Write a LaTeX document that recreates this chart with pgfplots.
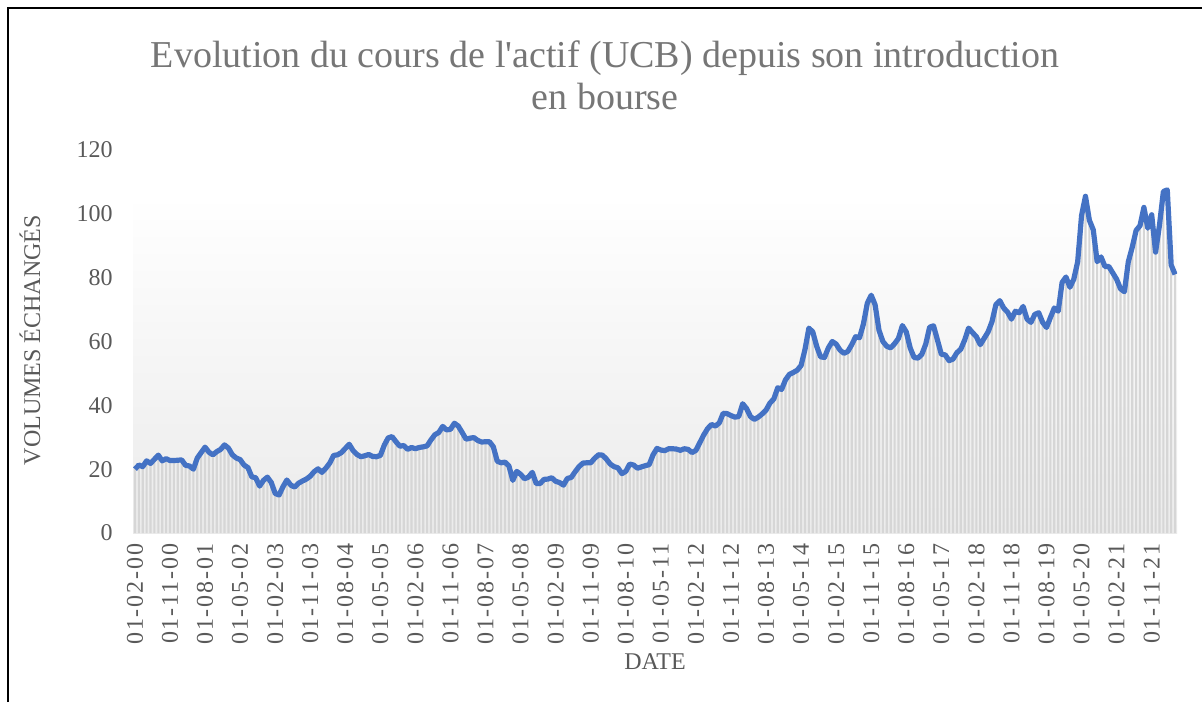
\documentclass[border=0pt]{standalone}
\usepackage{pgfplots}
\pgfplotsset{compat=1.18}
\usepackage{pgfplotstable}
\usepackage{fontspec}
\setmainfont{Liberation Serif}
\newfontfamily\tickfont[LetterSpace=8]{Liberation Serif}
\definecolor{linec}{HTML}{4472C4}
\definecolor{txt}{HTML}{595959}
\definecolor{ttl}{HTML}{767676}
\definecolor{barc}{HTML}{D6D6D6}
\definecolor{bgb}{HTML}{EBEBEB}
\definecolor{axc}{HTML}{D9D9D9}
\pgfplotstableread{
m v
0 20.0
1 21.3
2 20.8
3 22.6
4 21.8
5 23.1
6 24.4
7 22.6
8 23.3
9 22.7
10 22.7
11 22.8
12 22.9
13 21.2
14 21.0
15 20.0
16 23.5
17 25.2
18 26.9
19 25.3
20 24.5
21 25.5
22 26.2
23 27.6
24 26.6
25 24.5
26 23.5
27 23.0
28 21.3
29 20.5
30 17.6
31 17.3
32 14.7
33 16.5
34 17.5
35 15.8
36 12.4
37 11.9
38 14.5
39 16.6
40 15.0
41 14.4
42 15.6
43 16.3
44 16.9
45 17.8
46 19.2
47 20.1
48 19.0
49 20.3
50 21.9
51 24.3
52 24.5
53 25.2
54 26.5
55 27.8
56 25.8
57 24.6
58 23.9
59 24.2
60 24.6
61 24.0
62 23.9
63 24.3
64 27.5
65 29.8
66 30.2
67 28.6
68 27.2
69 27.4
70 26.2
71 26.8
72 26.4
73 26.8
74 27.0
75 27.3
76 29.2
77 30.8
78 31.5
79 33.4
80 32.3
81 32.5
82 34.4
83 33.5
84 31.5
85 29.4
86 29.7
87 29.9
88 29.0
89 28.5
90 28.6
91 28.6
92 27.0
93 22.5
94 22.0
95 22.2
96 21.0
97 16.5
98 19.3
99 18.4
100 17.0
101 17.5
102 19.0
103 15.5
104 15.5
105 16.8
106 16.9
107 17.3
108 16.2
109 15.8
110 15.0
111 17.1
112 17.4
113 19.2
114 20.8
115 21.9
116 22.0
117 22.0
118 23.4
119 24.5
120 24.4
121 23.2
122 21.6
123 20.8
124 20.4
125 18.6
126 19.3
127 21.6
128 21.3
129 20.3
130 20.7
131 21.1
132 21.4
133 24.5
134 26.5
135 26.0
136 25.8
137 26.4
138 26.4
139 26.3
140 25.9
141 26.4
142 26.2
143 25.2
144 25.9
145 28.3
146 30.7
147 32.7
148 34.0
149 33.5
150 34.5
151 37.5
152 37.4
153 36.8
154 36.3
155 36.5
156 40.5
157 39.0
158 36.5
159 35.6
160 36.3
161 37.3
162 38.5
163 40.7
164 42.0
165 45.5
166 45.0
167 48.0
168 49.7
169 50.3
170 51.0
171 52.5
172 57.5
173 64.2
174 63.0
175 58.5
176 55.2
177 55.0
178 58.0
179 60.0
180 59.2
181 57.3
182 56.3
183 56.9
184 59.0
185 61.5
186 61.2
187 65.5
188 72.0
189 74.5
190 71.5
191 63.5
192 60.0
193 58.5
194 58.0
195 59.3
196 61.0
197 65.0
198 63.0
199 58.0
200 55.0
201 54.8
202 56.0
203 59.2
204 64.5
205 64.9
206 60.5
207 56.0
208 55.8
209 54.0
210 54.5
211 56.5
212 57.6
213 60.5
214 64.2
215 62.8
216 61.5
217 59.0
218 61.0
219 63.0
220 66.2
221 71.5
222 72.8
223 70.5
224 69.2
225 67.0
226 69.5
227 69.0
228 71.0
229 67.0
230 66.0
231 68.5
232 69.0
233 66.0
234 64.4
235 67.5
236 70.5
237 69.5
238 78.5
239 80.2
240 77.0
241 79.5
242 85.0
243 99.5
244 105.5
245 98.0
246 95.0
247 85.0
248 86.5
249 83.5
250 83.5
251 81.5
252 79.5
253 76.5
254 75.6
255 85.0
256 89.5
257 94.8
258 96.3
259 102.0
260 95.5
261 99.7
262 88.0
263 96.5
264 107.0
265 107.5
266 84.0
267 81.0
}\ucb
\begin{document}
\begin{tikzpicture}
\path[use as bounding box] (0,0) rectangle (601pt,351pt);
\draw[line width=1pt] (4pt,0) -- (4pt,347pt) -- (601pt,347pt);
\node[text=ttl, align=center, font=\fontsize{19}{21}\selectfont] at (302.5pt,313.5pt) {Evolution du cours de l\textquotesingle actif (UCB) depuis son introduction\\en bourse};
\node[text=txt, rotate=90, font=\fontsize{12}{14}\selectfont] at (15pt,181pt) {VOLUMES ÉCHANGÉS};
\node[text=txt, font=\fontsize{12}{14}\selectfont] at (327.5pt,20pt) {DATE};
\begin{axis}[
  at={(66.5pt,84.5pt)}, anchor=south west,
  width=522pt, height=191.5pt, scale only axis,
  xmin=-0.5, xmax=267.5, ymin=0, ymax=120,
  axis lines*=left,
  x axis line style={draw=axc, line width=0.75pt},
  y axis line style={draw=none},
  major tick length=0pt,
  /pgf/number format/assume math mode=true,
  ytick={0,20,...,120},
  yticklabel style={font=\fontsize{12}{14}\selectfont, text=txt, inner sep=0pt},
  yticklabel shift=10pt,
  xtick={0,9,...,261},
  xticklabels={01-02-00,01-11-00,01-08-01,01-05-02,01-02-03,01-11-03,01-08-04,01-05-05,01-02-06,01-11-06,01-08-07,01-05-08,01-02-09,01-11-09,01-08-10,01-05-11,01-02-12,01-11-12,01-08-13,01-05-14,01-02-15,01-11-15,01-08-16,01-05-17,01-02-18,01-11-18,01-08-19,01-05-20,01-02-21,01-11-21},
  xticklabel style={font=\tickfont\fontsize{12}{14}\selectfont, text=txt, rotate=90, anchor=east, inner sep=0pt},
  xticklabel shift=5pt,
]
\fill[top color=white, bottom color=bgb] (axis cs:-0.5,0) rectangle (axis cs:267.5,106);
\addplot[ybar, bar width=0.55, fill=barc, draw=none] table[x=m,y=v]{\ucb};
\addplot[linec, line width=2.6pt, line join=round, mark=none] table[x=m,y=v]{\ucb};
\end{axis}
\end{tikzpicture}
\end{document}
